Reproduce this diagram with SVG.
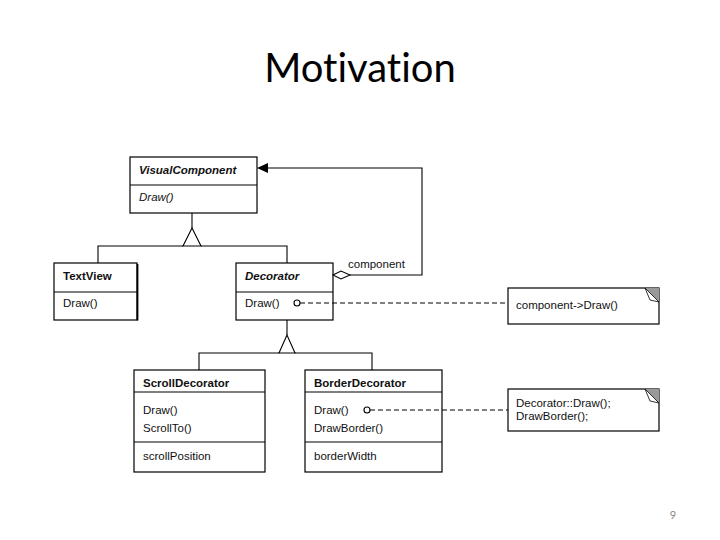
<svg xmlns="http://www.w3.org/2000/svg" width="720" height="540" viewBox="0 0 720 540">
<style>
.box{fill:#fff;stroke:#000;stroke-width:1.2}
.ln{fill:none;stroke:#000;stroke-width:1.1}
.dash{fill:none;stroke:#000;stroke-width:1;stroke-dasharray:5,3}
text{font-family:"Liberation Sans",Arial,sans-serif;font-size:11.5px;fill:#111}
.b{font-weight:bold}
.i{font-style:italic}
</style>
<rect width="720" height="540" fill="#fff"/>
<text x="360" y="82" text-anchor="middle" style="font-family:Lato,'Open Sans',sans-serif;font-size:40px;fill:#000;font-variant-ligatures:none">Motivation</text>
<g id="VisualComponent">
  <rect class="box" x="130" y="157" width="127" height="56"/>
  <line class="ln" x1="130" y1="185" x2="257" y2="185"/>
  <text x="139" y="174" class="b i">VisualComponent</text>
  <text x="139" y="201" class="i">Draw()</text>
</g>
<g id="TextView">
  <rect class="box" x="54" y="263" width="83" height="57"/>
  <line class="ln" x1="137.5" y1="264" x2="137.5" y2="320.5" style="stroke-width:1.8"/>
  <line class="ln" x1="54" y1="292" x2="137" y2="292"/>
  <text x="63" y="280" class="b">TextView</text>
  <text x="63" y="307">Draw()</text>
</g>
<g id="Decorator">
  <rect class="box" x="236" y="263" width="97" height="57"/>
  <line class="ln" x1="236" y1="292" x2="333" y2="292"/>
  <text x="245" y="280" class="b i">Decorator</text>
  <text x="245" y="307">Draw()</text>
</g>
<g id="ScrollDecorator">
  <rect class="box" x="134" y="370" width="131" height="102"/>
  <line class="ln" x1="134" y1="392" x2="265" y2="392"/>
  <line class="ln" x1="134" y1="442" x2="265" y2="442"/>
  <text x="143" y="387" class="b">ScrollDecorator</text>
  <text x="143" y="414">Draw()</text>
  <text x="143" y="432">ScrollTo()</text>
  <text x="143" y="460">scrollPosition</text>
</g>
<g id="BorderDecorator">
  <rect class="box" x="305" y="370" width="137" height="102"/>
  <line class="ln" x1="305" y1="392" x2="442" y2="392"/>
  <line class="ln" x1="305" y1="442" x2="442" y2="442"/>
  <text x="314" y="387" class="b">BorderDecorator</text>
  <text x="314" y="414">Draw()</text>
  <text x="314" y="432">DrawBorder()</text>
  <text x="314" y="460">borderWidth</text>
</g>
<g id="note1">
  <rect class="box" x="508" y="288" width="151" height="36"/>
  <polygon points="645,288 659,288 659,302" fill="#999"/>
  <polygon class="ln" points="645,288 659,302 650,300" style="fill:#fff;stroke-width:0.8"/>
  <text x="516" y="309">component-&gt;Draw()</text>
</g>
<g id="note2">
  <rect class="box" x="508" y="389" width="151" height="42"/>
  <polygon points="645,389 659,389 659,403" fill="#999"/>
  <polygon class="ln" points="645,389 659,403 650,401" style="fill:#fff;stroke-width:0.8"/>
  <text x="516" y="407">Decorator::Draw();</text>
  <text x="516" y="420">DrawBorder();</text>
</g>
<g id="connectors">
  <polyline class="ln" points="192,213 192,228"/>
  <polygon class="ln" points="192,228 183,246 201,246" style="fill:#fff"/>
  <polyline class="ln" points="98,263 98,246 183,246"/>
  <polyline class="ln" points="201,246 287,246 287,263"/>
  <polyline class="ln" points="268,168 422,168 422,275 350,275"/>
  <polygon points="257,168 268,163 268,173" fill="#000"/>
  <polygon class="ln" points="333,275 341,271 350,275 341,279" style="fill:#fff"/>
  <polyline class="ln" points="287,320 287,335"/>
  <polygon class="ln" points="287,335 279,353 295,353" style="fill:#fff"/>
  <polyline class="ln" points="199,370 199,353 279,353"/>
  <polyline class="ln" points="295,353 372,353 372,370"/>
  <circle class="ln" cx="297" cy="303" r="3" style="fill:#fff"/>
  <line class="dash" x1="300" y1="303" x2="508" y2="303"/>
  <circle class="ln" cx="367" cy="410" r="3" style="fill:#fff"/>
  <line class="dash" x1="370" y1="410" x2="508" y2="410"/>
  <text x="348" y="268">component</text>
</g>
<text x="673" y="519" text-anchor="middle" style="font-family:Lato,sans-serif;font-size:11px;fill:#888">9</text>
</svg>
